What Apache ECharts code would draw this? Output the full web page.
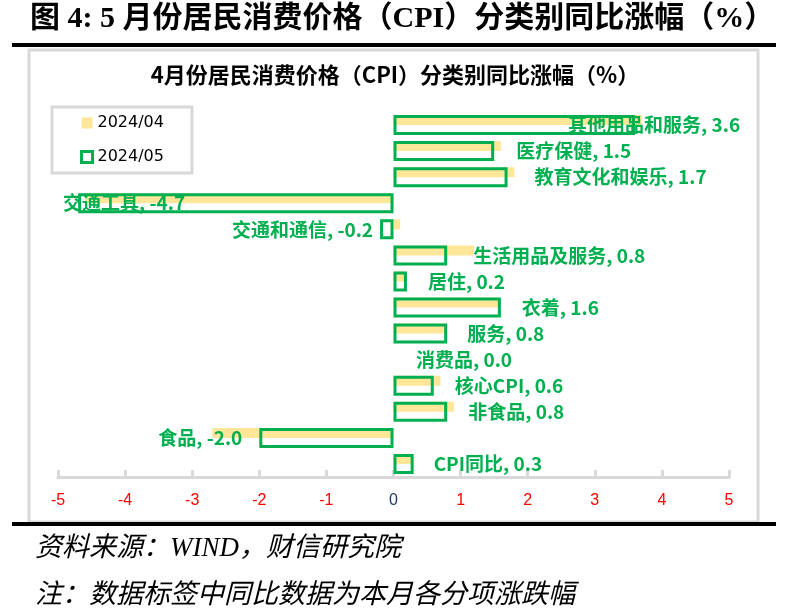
<!DOCTYPE html>
<html>
<head>
<meta charset="utf-8">
<script src="https://cdn.jsdelivr.net/npm/echarts@6/dist/echarts.min.js"></script>
<style>
html,body{margin:0;padding:0;background:#fff;}
#chart{width:790px;height:615px;}
</style>
</head>
<body>
<div id="chart"></div>
<script>
// ---- data ----
const categories = ['其他用品和服务','医疗保健','教育文化和娱乐','交通工具','交通和通信','生活用品及服务','居住','衣着','服务','消费品','核心CPI','非食品','食品','CPI同比'];
const seriesNames = ['2024/04','2024/05'];
const valuesApr = [3.7, 1.6, 1.8, -4.6, 0.1, 1.2, 0.2, 1.6, 0.8, 0.0, 0.7, 0.9, -2.7, 0.3];
const valuesMay = [3.6, 1.5, 1.7, -4.7, -0.2, 0.8, 0.2, 1.6, 0.8, 0.0, 0.6, 0.8, -2.0, 0.3];
const mainTitle = '图 4: 5 月份居民消费价格（CPI）分类别同比涨幅（%）';
const chartTitle = '4月份居民消费价格（CPI）分类别同比涨幅（%）';
const sourceText = '资料来源：WIND，财信研究院';
const noteText = '注：数据标签中同比数据为本月各分项涨跌幅';

// ---- styling (label nudges, px) ----
const labelNudge = [-88, 1, 6, 128, 14, 5, 0, 0, -1, 0, 0, 0, 4, -1];

const GREEN = '#00B050';
const YELLOW = '#FFE699';

const mayData = valuesMay.map((v, i) => {
  const item = {
    value: v,
    label: { offset: [labelNudge[i], 0], position: v < 0 ? 'left' : 'right' }
  };
  if (v === 0) item.itemStyle = { borderColor: 'rgba(0,0,0,0)' };
  return item;
});

const chart = echarts.init(document.getElementById('chart'), null, {renderer: 'canvas'});
const option = {
  animation: false,
  backgroundColor: '#fff',
  grid: { left: 58, right: 61, top: 112, bottom: 138, containLabel: false },
  legend: {
    orient: 'vertical',
    left: 52, top: 107,
    padding: [8, 28, 8, 28],
    itemGap: 18,
    itemWidth: 11, itemHeight: 11,
    borderColor: '#D9D9D9', borderWidth: 3,
    textStyle: { fontSize: 16, fontFamily: 'DejaVu Sans', color: '#000' },
    data: [
      { name: seriesNames[0], icon: 'rect', itemStyle: { color: YELLOW, borderWidth: 0 } },
      { name: seriesNames[1], icon: 'rect', itemStyle: { color: '#fff', borderColor: GREEN, borderWidth: 3 } }
    ]
  },
  xAxis: {
    type: 'value', min: -5, max: 5, interval: 1,
    splitLine: { show: false },
    axisLine: { show: true, lineStyle: { color: '#D9D9D9', width: 3 } },
    axisTick: { show: true, inside: true, length: 7, lineStyle: { color: '#D9D9D9', width: 3 } },
    axisLabel: {
      margin: 16, fontSize: 16, fontFamily: 'Liberation Sans',
      color: (v) => (Number(v) === 0 ? '#1F3864' : '#FF0000')
    }
  },
  yAxis: {
    type: 'category', data: categories, inverse: true,
    axisLine: { show: false }, axisTick: { show: false }, axisLabel: { show: false },
    splitLine: { show: false }
  },
  series: [
    {
      name: seriesNames[0], type: 'bar', data: valuesApr,
      barWidth: 10, barGap: '-100%',
      itemStyle: { color: YELLOW },
      z: 2
    },
    {
      name: seriesNames[1], type: 'bar', data: mayData,
      barWidth: 20,
      itemStyle: { color: 'rgba(0,0,0,0)', borderColor: GREEN, borderWidth: 3 },
      label: {
        show: true,
        distance: 21,
        color: GREEN,
        fontWeight: 'bold',
        fontSize: 19,
        fontFamily: "'Noto Sans CJK SC', sans-serif",
        formatter: (p) => p.name + ', ' + Number(p.value).toFixed(1)
      },
      z: 3
    }
  ],
  graphic: [
    { type: 'text', left: 30, top: 4, style: { text: mainTitle, font: "bold 30px 'Liberation Serif', 'Noto Sans CJK SC'", fill: '#000' } },
    { type: 'rect', shape: { x: 12, y: 43, width: 764, height: 4 }, style: { fill: '#000' } },
    { type: 'rect', shape: { x: 29, y: 50, width: 729, height: 472 }, style: { fill: 'none', stroke: '#D9D9D9', lineWidth: 3 } },
    { type: 'text', left: 'center', top: 64, style: { text: chartTitle, font: "bold 22px 'Noto Sans CJK SC'", fill: '#000' } },
    { type: 'rect', shape: { x: 12, y: 522, width: 764, height: 4 }, style: { fill: '#000' } },
    { type: 'text', left: 35, top: 535, style: { text: sourceText, font: "italic 27px 'Liberation Serif', 'Noto Sans CJK SC'", fill: '#000' } },
    { type: 'text', left: 35, top: 582, style: { text: noteText, font: "italic 27px 'Liberation Serif', 'Noto Sans CJK SC'", fill: '#000' } }
  ]
};
chart.setOption(option);
</script>
</body>
</html>
